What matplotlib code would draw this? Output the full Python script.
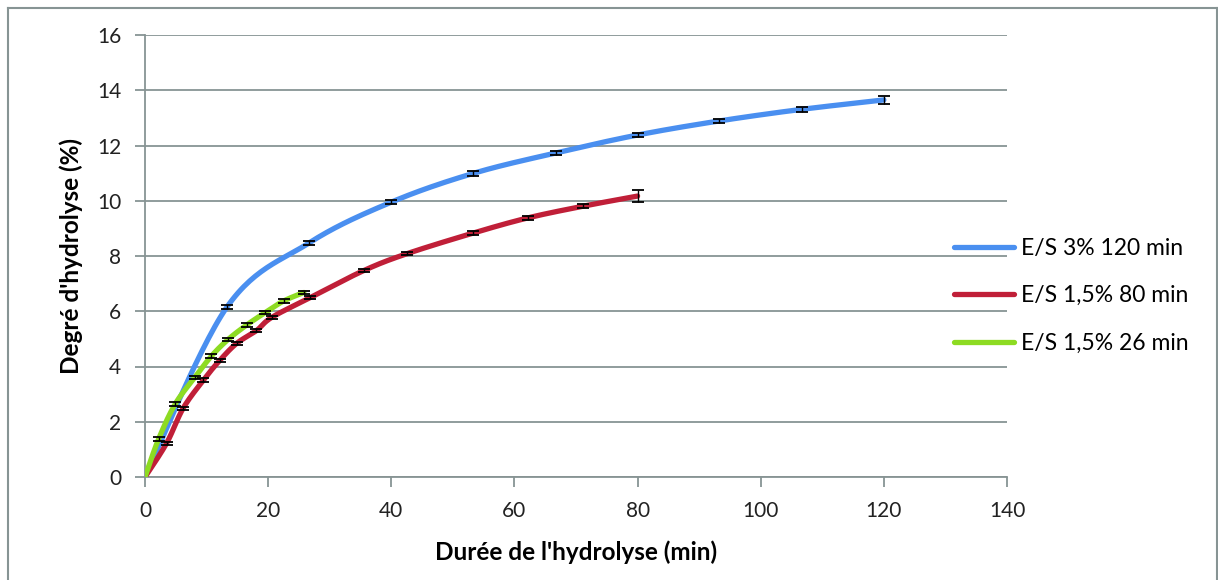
import numpy as np
import matplotlib.pyplot as plt
from matplotlib.lines import Line2D

plt.rcParams['font.family'] = ['Lato', 'DejaVu Sans']

# données
t_bleu = [0, 13.3, 26.7, 40, 53.3, 66.7, 80, 93.3, 106.7, 120]
dh_bleu = [0, 6.15, 8.48, 9.95, 10.99, 11.73, 12.38, 12.89, 13.31, 13.65]
err_bleu = [0, 0.08, 0.08, 0.07, 0.08, 0.08, 0.08, 0.07, 0.1, 0.15]

t_rouge = [0, 3.5, 6.2, 9.5, 12.1, 14.9, 18.1, 20.6, 26.8, 35.5, 42.5, 53.3, 62.2, 71.1, 80]
dh_rouge = [0, 1.22, 2.49, 3.51, 4.21, 4.84, 5.3, 5.78, 6.49, 7.47, 8.08, 8.83, 9.38, 9.8, 10.17]
err_rouge = [0, 0.06, 0.06, 0.06, 0.06, 0.06, 0.06, 0.06, 0.06, 0.06, 0.06, 0.07, 0.07, 0.07, 0.23]

t_vert = [0, 2.2, 4.9, 8.1, 10.8, 13.5, 16.5, 19.5, 22.5, 25.8]
dh_vert = [0, 1.37, 2.64, 3.61, 4.38, 4.98, 5.5, 5.95, 6.37, 6.68]
err_vert = [0, 0.06, 0.06, 0.06, 0.06, 0.06, 0.06, 0.06, 0.06, 0.07]

noms = ['E/S 3% 120 min', 'E/S 1,5% 80 min', 'E/S 1,5% 26 min']
couleurs = ['#4a8ff0', '#c01f38', '#8ddb22']


def lisser(x, y, n=30):
    # courbe lissée façon Excel (Catmull-Rom en Bézier)
    x = np.asarray(x, float)
    y = np.asarray(y, float)
    p = np.column_stack([x, y])
    pts = [p[0]]
    for i in range(len(p) - 1):
        p0 = p[i - 1] if i > 0 else p[i]
        p3 = p[i + 2] if i + 2 < len(p) else p[i + 1]
        b1 = p[i] + (p[i + 1] - p0) / 6
        b2 = p[i + 1] - (p3 - p[i]) / 6
        s = np.linspace(0, 1, n)[1:, None]
        seg = ((1 - s) ** 3 * p[i] + 3 * (1 - s) ** 2 * s * b1
               + 3 * (1 - s) * s ** 2 * b2 + s ** 3 * p[i + 1])
        pts.extend(seg)
    pts = np.array(pts)
    return pts[:, 0], pts[:, 1]


fig = plt.figure(figsize=(12.18, 5.8), dpi=100)
ax = fig.add_axes([145 / 1218, 1 - 477 / 580, 862 / 1218, 442 / 580])

gris = '#879494'
series = [(t_bleu, dh_bleu, err_bleu), (t_rouge, dh_rouge, err_rouge), (t_vert, dh_vert, err_vert)]
for (t, dh, err), nom, c in zip(series, noms, couleurs):
    xs, ys = lisser(t, dh)
    ax.plot(xs, ys, color=c, lw=3.8, solid_capstyle='round', label=nom, zorder=3)
for (t, dh, err) in series:
    ax.errorbar(t[1:], dh[1:], yerr=err[1:], fmt='none', ecolor='black',
                elinewidth=1, capsize=4.5, capthick=1.3, zorder=4)

ax.set_xlim(0, 140)
ax.set_ylim(0, 16)
ax.set_xticks(np.arange(0, 141, 20))
ax.set_yticks(np.arange(0, 17, 2))
ax.grid(axis='y', color=gris, lw=1.3)
ax.set_axisbelow(True)
for s in ['top', 'right']:
    ax.spines[s].set_visible(False)
for s in ['left', 'bottom']:
    ax.spines[s].set_color(gris)
    ax.spines[s].set_linewidth(1.3)
ax.tick_params(colors=gris, labelcolor='#222222', labelsize=15, length=7, width=1.3)
ax.tick_params(axis='x', pad=10)
ax.tick_params(axis='y', pad=10)

ax.set_xlabel("Durée de l'hydrolyse (min)", fontsize=17.5, fontweight='bold', labelpad=14)
ax.set_ylabel("Degré d'hydrolyse (%)", fontsize=17.5, fontweight='bold', labelpad=10)

ax.legend(loc='center left', bbox_to_anchor=(0.915, 0.41), frameon=False,
          fontsize=16.5, handlelength=2.6, handletextpad=0.3, labelspacing=1.15)

# cadre extérieur
for xy in [([8 / 1218, 8 / 1218], [0, 1 - 8 / 580]),
           ([8 / 1218, 1217 / 1218], [1 - 8 / 580, 1 - 8 / 580]),
           ([1217 / 1218, 1217 / 1218], [0, 1 - 8 / 580])]:
    fig.add_artist(Line2D(xy[0], xy[1], color=gris, lw=1.5))

plt.savefig('out.png', dpi=100)
